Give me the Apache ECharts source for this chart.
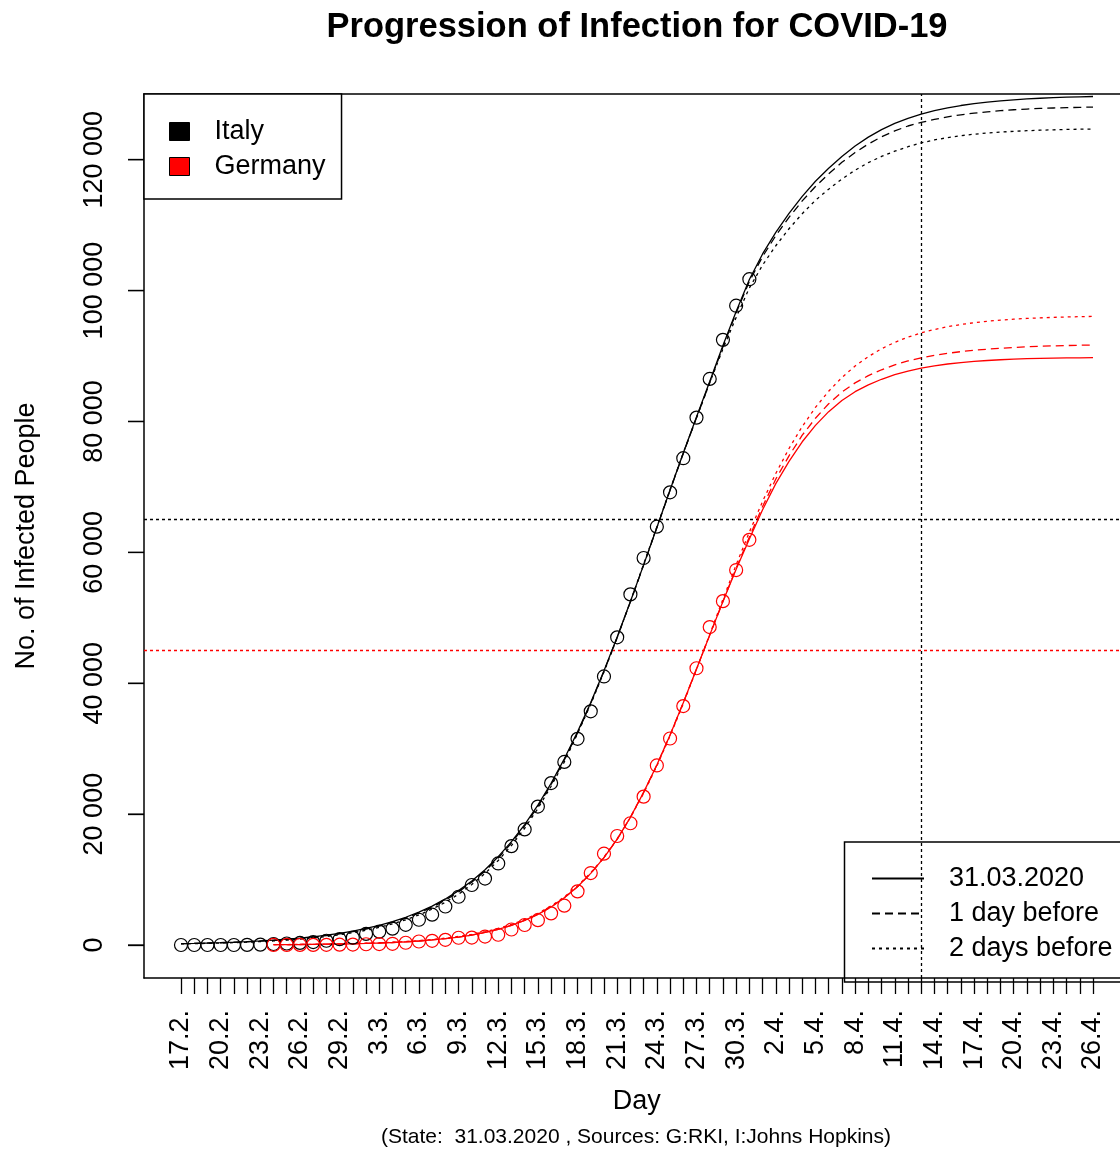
<!DOCTYPE html>
<html>
<head>
<meta charset="utf-8">
<script src="https://cdn.jsdelivr.net/npm/echarts@6/dist/echarts.min.js"></script>
<style>
html,body{margin:0;padding:0;background:#fff;}
#chart{width:1120px;height:1149px;}
</style>
</head>
<body>
<div id="chart"></div>
<script>
// ---------- DATA ----------
const days = ['17.2.','18.2.','19.2.','20.2.','21.2.','22.2.','23.2.','24.2.','25.2.','26.2.','27.2.','28.2.','29.2.',
  '1.3.','2.3.','3.3.','4.3.','5.3.','6.3.','7.3.','8.3.','9.3.','10.3.','11.3.','12.3.','13.3.','14.3.','15.3.','16.3.','17.3.','18.3.','19.3.','20.3.','21.3.','22.3.','23.3.','24.3.','25.3.','26.3.','27.3.','28.3.','29.3.','30.3.','31.3.',
  '1.4.','2.4.','3.4.','4.4.','5.4.','6.4.','7.4.','8.4.','9.4.','10.4.','11.4.','12.4.','13.4.','14.4.','15.4.','16.4.','17.4.','18.4.','19.4.','20.4.','21.4.','22.4.','23.4.','24.4.','25.4.','26.4.'];
const labelDays = ['17.2.','20.2.','23.2.','26.2.','29.2.','3.3.','6.3.','9.3.','12.3.','15.3.','18.3.','21.3.','24.3.','27.3.','30.3.','2.4.','5.4.','8.4.','11.4.','14.4.','17.4.','20.4.','23.4.','26.4.'];
const yTicks = [0, 20000, 40000, 60000, 80000, 100000, 120000];

// observed cumulative cases (Italy from 17.2., Germany from 24.2.)
const italyStart = '17.2.';
const italyCases = [3,3,3,3,3,20,62,155,229,322,453,655,888,1128,1694,2036,2502,3089,3858,4636,5883,7375,9172,10149,12462,15113,17660,21157,24747,27980,31506,35713,41035,47021,53578,59138,63927,69176,74386,80589,86498,92472,97689,101739];
const germanyStart = '24.2.';
const germanyCases = [16,16,18,21,26,53,66,117,150,188,349,534,639,795,1112,1139,1296,1567,2369,3062,3795,4838,6012,8198,10999,13957,16662,18610,22672,27436,31554,36508,42288,48582,52547,57298,61913];

// fitted curves (Italy from 17.2., Germany from 24.2.)
const italyFit0 = [220,260,310,370,440,525,625,745,890,1060,1260,1500,1790,2130,2530,3010,3570,4240,5030,5950,7040,8310,9790,11510,13500,15800,18410,21370,24720,28450,32570,37060,41910,47070,52480,58090,63800,69520,75180,80690,86100,91600,96800,101700,105600,108900,111800,114400,116700,118700,120500,122100,123450,124600,125550,126330,126970,127500,127930,128280,128570,128800,128990,129150,129280,129390,129480,129550,129610,129660];
const italyFit1 = [200,240,290,350,410,490,590,700,840,1010,1200,1430,1710,2040,2430,2900,3450,4110,4880,5790,6860,8120,9600,11310,13300,15580,18200,21180,24530,28280,32420,36940,41810,47000,52440,58050,63760,69480,75110,80570,85950,91400,96600,101400,105200,108400,111200,113700,115900,117850,119600,121100,122400,123500,124400,125150,125700,126150,126550,126860,127120,127320,127490,127630,127740,127830,127900,127960,128000,128040];
const italyFit2 = [174,209,252,302,363,436,524,629,757,908,1090,1306,1565,1876,2248,2692,3220,3854,4595,5490,6524,7767,9240,10930,12915,15200,17840,20860,24260,27980,32290,36820,41720,46970,52470,58200,63880,69600,75180,80560,85900,91100,95900,100400,103900,106850,109450,111750,113800,115500,117050,118400,119550,120500,121300,121980,122570,123020,123380,123670,123900,124080,124220,124340,124430,124510,124570,124620,124660,124690];
const germanyFit0 = [48,61,77,97,122,154,194,244,307,386,486,612,772,970,1217,1527,1915,2399,3007,3753,4678,5820,7232,8916,10945,13342,16168,19518,23321,27498,32080,37036,42166,47353,52478,57428,62053,66500,70500,73900,76900,79400,81500,83200,84550,85600,86450,87150,87700,88150,88500,88780,89000,89180,89320,89430,89520,89590,89640,89680,89710,89730,89750];
const germanyFit1 = [48,61,77,97,122,154,194,244,307,386,486,612,772,970,1217,1527,1915,2399,3007,3753,4678,5820,7232,8916,10945,13342,16168,19518,23321,27498,32080,37036,42166,47353,52478,57578,62353,67000,71200,74750,77900,80500,82700,84500,85900,87000,87900,88650,89250,89730,90110,90420,90670,90880,91050,91190,91310,91410,91490,91550,91600,91650,91690];
const germanyFit2 = [58,72,90,113,141,176,221,276,345,431,539,673,841,1049,1309,1632,2034,2531,3146,3903,4834,5972,7358,9031,11039,13424,16226,19476,23187,27354,31942,36888,42100,47454,52826,58079,63096,67786,72057,75874,79235,82146,84623,86720,88468,89915,91116,92093,92884,93534,94056,94480,94816,95097,95313,95491,95632,95745,95836,95909,95968,96014,96051];

const fitNames = ['31.03.2020', '1 day before', '2 days before'];
const italyHalf = 65000;
const germanyHalf = 45000;
const markDay = '13.4.';

// ---------- CHART ----------
const FONT = '"Liberation Sans", Arial, sans-serif';
const X_MIN = -2.8, X_MAX = 71.76;
function toPairs(startLabel, arr) {
  const s = days.indexOf(startLabel);
  return arr.map((v, i) => [s + i, v]);
}
const tickIdx = days.map((d, i) => i);
const labelIdx = labelDays.map(d => days.indexOf(d));
const fmtThousands = v => String(v).replace(/\B(?=(\d{3})+(?!\d))/g, ' ');
const dashTypes = ['solid', [8, 5], [3, 4]];

function fitSeries(name, data, color, idx, extra) {
  return Object.assign({
    type: 'line', name: name, data: data, symbol: 'none', showSymbol: false,
    lineStyle: { color: color, width: 1.3, type: dashTypes[idx] },
    itemStyle: { color: color }, z: 10 - idx, silent: true
  }, extra || {});
}

const series = [];
const gFits = [germanyFit0, germanyFit1, germanyFit2];
const iFits = [italyFit0, italyFit1, italyFit2];
for (let k = 0; k < 3; k++) {
  series.push(fitSeries(fitNames[k], toPairs(italyStart, iFits[k]), '#000000', k,
    k === 0 ? { markLine: { silent: true, symbol: ['none','none'], label: { show: false },
      lineStyle: { color: '#000000', type: [3,3], width: 1.3 },
      data: [{ yAxis: italyHalf }, { xAxis: days.indexOf(markDay) }] } } : null));
}
for (let k = 0; k < 3; k++) {
  series.push(fitSeries(fitNames[k], toPairs(germanyStart, gFits[k]), '#ff0000', k,
    k === 0 ? { markLine: { silent: true, symbol: ['none','none'], label: { show: false },
      lineStyle: { color: '#ff0000', type: [3,3], width: 1.3 }, data: [{ yAxis: germanyHalf }] } } : null));
}
series.push({
  type: 'scatter', name: 'Italy', data: toPairs(italyStart, italyCases), symbol: 'circle', symbolSize: 13,
  itemStyle: { color: 'rgba(0,0,0,0)', borderColor: '#000', borderWidth: 1.2, opacity: 1 }, z: 20, silent: true
});
series.push({
  type: 'scatter', name: 'Germany', data: toPairs(germanyStart, germanyCases), symbol: 'circle', symbolSize: 13,
  itemStyle: { color: 'rgba(0,0,0,0)', borderColor: '#ff0000', borderWidth: 1.2, opacity: 1 }, z: 20, silent: true
});

const legendBox = { id: 'legendBox', type: 'rect', silent: true, z: 5,
  shape: { x: 844.5, y: 842, width: 320, height: 140 },
  style: { fill: 'none', stroke: '#000', lineWidth: 1.5 } };

const axisLineStyle = { color: '#000', width: 1.5 };
const option = {
  animation: false,
  backgroundColor: '#fff',
  textStyle: { fontFamily: FONT, color: '#000' },
  title: [
    { text: 'Progression of Infection for COVID-19', left: 637, top: 10, textAlign: 'center', padding: 0,
      textStyle: { fontFamily: FONT, fontSize: 34.5, fontWeight: 'bold', color: '#000' } },
    { text: '(State:  31.03.2020 , Sources: G:RKI, I:Johns Hopkins)', left: 636, top: 1127, textAlign: 'center', padding: 0,
      textStyle: { fontFamily: FONT, fontSize: 21, fontWeight: 'normal', color: '#000' } }
  ],
  legend: [
    { orient: 'vertical', left: 144, top: 94, padding: [24, 16, 19, 25], itemGap: 8,
      itemWidth: 20, itemHeight: 18, selectedMode: false,
      borderColor: '#000', borderWidth: 1.5, backgroundColor: '#fff',
      textStyle: { fontFamily: FONT, fontSize: 27, color: '#000', padding: [0, 0, 0, 20] },
      data: [
        { name: 'Italy', icon: 'rect', itemStyle: { color: '#000000', borderColor: '#000', borderWidth: 1, opacity: 1 } },
        { name: 'Germany', icon: 'rect', itemStyle: { color: '#ff0000', borderColor: '#000', borderWidth: 1, opacity: 1 } }
      ] },
    { orient: 'vertical', left: 844, top: 842, padding: [23, 20, 20, 27], itemGap: 8,
      itemWidth: 52, itemHeight: 18, selectedMode: false,
      borderWidth: 0, backgroundColor: 'transparent',
      itemStyle: { opacity: 0 },
      textStyle: { fontFamily: FONT, fontSize: 27, color: '#000', padding: [0, 0, 0, 20] },
      data: fitNames.map(n => ({ name: n })) }
  ],
  graphic: [legendBox],
  grid: { left: 144, width: 985.5, top: 94, bottom: 171, show: false, outerBoundsMode: 'none', containLabel: false },
  xAxis: [{
    type: 'value', min: X_MIN, max: X_MAX, position: 'bottom',
    axisLine: { show: true, onZero: false, lineStyle: axisLineStyle }, splitLine: { show: false },
    axisTick: { show: true, length: 16, customValues: tickIdx, lineStyle: { color: '#000', width: 1.3 } },
    axisLabel: { customValues: labelIdx, rotate: 90, margin: 32, fontSize: 27, color: '#000', fontFamily: FONT,
      formatter: v => days[Math.round(v)] },
    name: 'Day', nameLocation: 'middle', nameGap: 110,
    nameTextStyle: { fontSize: 27, color: '#000', fontFamily: FONT }
  }, {
    type: 'value', min: 0, max: 1, position: 'top',
    axisLine: { show: true, onZero: false, lineStyle: axisLineStyle }, splitLine: { show: false },
    axisTick: { show: false }, axisLabel: { show: false }
  }],
  yAxis: {
    type: 'value', min: -5040, max: 130040, position: 'left',
    axisLine: { show: true, onZero: true, onZeroAxisIndex: 1, lineStyle: axisLineStyle }, splitLine: { show: false },
    axisTick: { show: true, inside: false, length: 16, customValues: yTicks, lineStyle: { color: '#000', width: 1.3 } },
    axisLabel: { customValues: yTicks, rotate: 90, margin: 36, fontSize: 27, color: '#000', fontFamily: FONT,
      formatter: v => fmtThousands(v) },
    name: 'No. of Infected People', nameLocation: 'middle', nameRotate: 90, nameGap: 104,
    nameTextStyle: { fontSize: 27, color: '#000', fontFamily: FONT }
  },
  series: series
};

const chart = echarts.init(document.getElementById('chart'), null, { renderer: 'canvas' });
chart.setOption(option);

// y-axis tick marks, placed through the chart's own y scale
const axisX = chart.convertToPixel({ xAxisIndex: 0 }, X_MIN);
const tickMarks = yTicks.map((v, i) => {
  const y = chart.convertToPixel({ yAxisIndex: 0 }, v);
  return { id: 'ytick' + i, type: 'line', silent: true, z: 50,
    shape: { x1: axisX - 16, y1: y, x2: axisX, y2: y },
    style: { stroke: '#000', lineWidth: 1.3 } };
});
chart.setOption({ graphic: [legendBox].concat(tickMarks) });
</script>
</body>
</html>
